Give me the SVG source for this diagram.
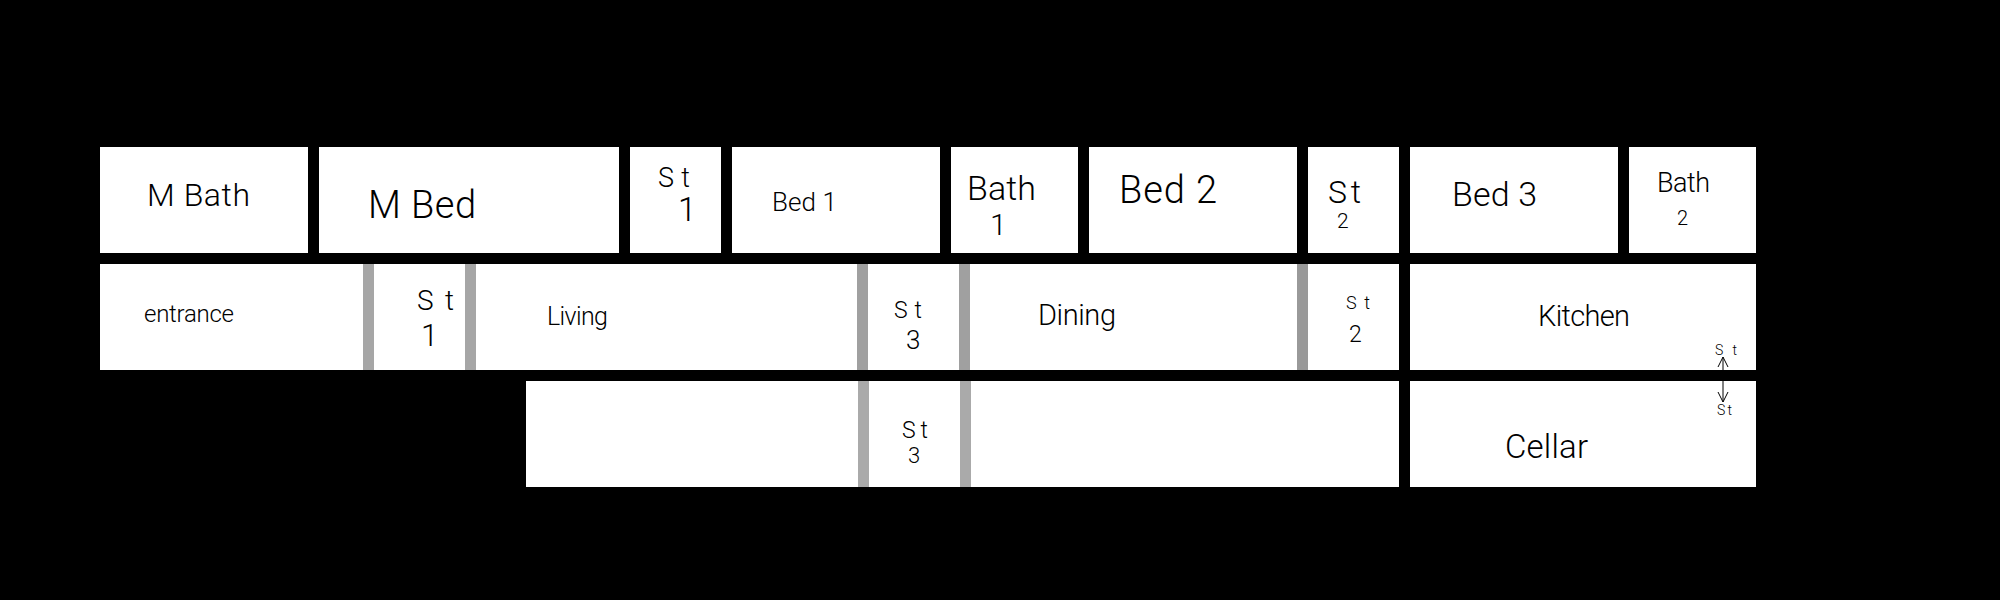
<svg xmlns="http://www.w3.org/2000/svg" width="2000" height="600" viewBox="0 0 2000 600">
<defs>
<marker id="chev" viewBox="0 0 12 12" refX="11" refY="6" markerWidth="12" markerHeight="12" markerUnits="userSpaceOnUse" orient="auto"><path d="M1 1 L11 6 L1 11" fill="none" stroke="#000" stroke-width="1"/></marker>
</defs>
<style>
.room{fill:#fff}
.band{fill:#a6a6a6}
text{font-family:"Roboto","Liberation Sans",Arial,sans-serif;font-weight:300;fill:#000}
.xs{font-size:14px}
</style>
<rect width="2000" height="600" fill="#000"/>
<g id="m-bath"><rect class="room" x="100" y="147" width="208" height="106"/><text x="147" y="206" font-size="32" textLength="103">M Bath</text></g>
<g id="m-bed"><rect class="room" x="319" y="147" width="300" height="106"/><text x="368" y="218" font-size="38" textLength="108">M Bed</text></g>
<g id="st-1-upper"><rect class="room" x="630" y="147" width="91" height="106"/><text x="658" y="187" font-size="27" textLength="32">St</text><text x="678" y="221" font-size="33">1</text></g>
<g id="bed-1"><rect class="room" x="732" y="147" width="208" height="106"/><text x="772" y="211" font-size="26" textLength="65">Bed 1</text></g>
<g id="bath-1"><rect class="room" x="951" y="147" width="127" height="106"/><text x="967" y="200" font-size="34" textLength="69">Bath</text><text x="990" y="235" font-size="30">1</text></g>
<g id="bed-2"><rect class="room" x="1089" y="147" width="208" height="106"/><text x="1119" y="203" font-size="38" textLength="98">Bed 2</text></g>
<g id="st-2-upper"><rect class="room" x="1308" y="147" width="91" height="106"/><text x="1328" y="203" font-size="32" textLength="33">St</text><text x="1337" y="228" font-size="21">2</text></g>
<g id="bed-3"><rect class="room" x="1410" y="147" width="208" height="106"/><text x="1452" y="206" font-size="34" textLength="85">Bed 3</text></g>
<g id="bath-2"><rect class="room" x="1629" y="147" width="127" height="106"/><text x="1657" y="192" font-size="27" textLength="53">Bath</text><text x="1677" y="225" font-size="20">2</text></g>

<g id="entrance"><rect class="room" x="100" y="264" width="263" height="106"/><text x="144" y="322" font-size="24" textLength="90">entrance</text></g>
<g id="st-1-lower"><rect class="room" x="374" y="264" width="91" height="106"/><text x="417" y="310" font-size="28" textLength="37">St</text><text x="421" y="346" font-size="31">1</text></g>
<g id="living"><rect class="room" x="476" y="264" width="381" height="106"/><text x="547" y="325" font-size="25" textLength="61">Living</text></g>
<g id="st-3-upper"><rect class="room" x="868" y="264" width="91" height="106"/><text x="894" y="318" font-size="23" textLength="28">St</text><text x="906" y="349" font-size="26">3</text></g>
<g id="dining"><rect class="room" x="970" y="264" width="327" height="106"/><text x="1038" y="325" font-size="29" textLength="78">Dining</text></g>
<g id="st-2-lower"><rect class="room" x="1308" y="264" width="91" height="106"/><text x="1346" y="309" font-size="18" textLength="24">St</text><text x="1349" y="342" font-size="23">2</text></g>
<g id="kitchen"><rect class="room" x="1410" y="264" width="346" height="106"/><text x="1538" y="326" font-size="29" textLength="92">Kitchen</text></g>

<g id="lower-left"><rect class="room" x="526" y="381" width="332" height="106"/></g>
<g id="st-3-lower"><rect class="room" x="869" y="381" width="91" height="106"/><text x="902" y="438" font-size="23" textLength="26">St</text><text x="908" y="463" font-size="22">3</text></g>
<g id="lower-right"><rect class="room" x="971" y="381" width="428" height="106"/></g>
<g id="cellar"><rect class="room" x="1410" y="381" width="346" height="106"/><text x="1505" y="458" font-size="33" textLength="83">Cellar</text></g>

<g id="stair-bands">
<rect class="band" x="363" y="264" width="11" height="106"/>
<rect class="band" x="465" y="264" width="11" height="106"/>
<rect x="857" y="264" width="11" height="106" fill="#a0a0a0"/>
<rect x="959" y="264" width="11" height="106" fill="#a0a0a0"/>
<rect x="1297" y="264" width="11" height="106" fill="#999"/>
<rect x="858" y="381" width="11" height="106" fill="#aaa"/>
<rect x="960" y="381" width="11" height="106" fill="#aaa"/>
</g>

<g id="connectors" fill="none" stroke="#000" stroke-width="1">
<line x1="1723" y1="370" x2="1723" y2="357" marker-end="url(#chev)"/>
<line x1="1723" y1="381" x2="1723" y2="402" marker-end="url(#chev)"/>
</g>
<g id="connector-labels">
<text class="xs" x="1715" y="355" textLength="22">St</text>
<text class="xs" x="1717" y="415" textLength="15">St</text>
</g>
</svg>
